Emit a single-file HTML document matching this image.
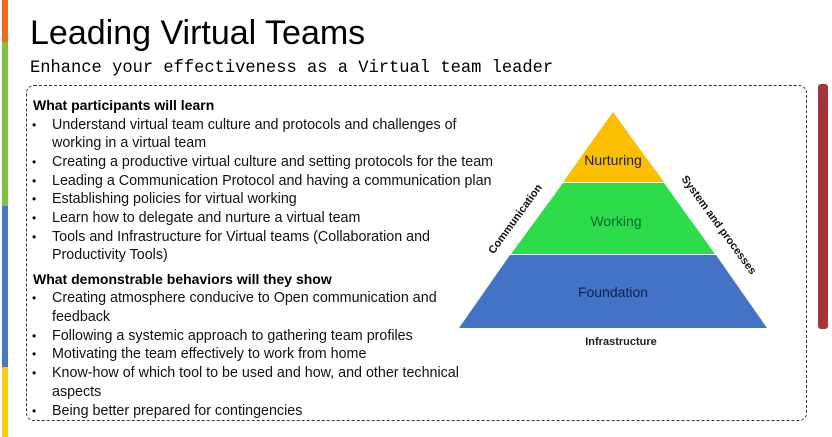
<!DOCTYPE html>
<html><head><style>
body{margin:0;width:832px;height:437px;background:#fff;position:relative;overflow:hidden;font-family:"Liberation Sans",sans-serif}
.a{position:absolute}
.t{position:absolute;left:52px;font-size:14.3px;color:#111;white-space:nowrap;line-height:18px}
.b{position:absolute;left:32px;font-size:12px}
.h{position:absolute;left:33px;font-size:14px;font-weight:bold;white-space:nowrap}
</style></head><body>
<div class="a" style="left:2px;top:0;width:6px;height:42px;background:#f26a1b"></div>
<div class="a" style="left:2px;top:42px;width:6px;height:164px;background:#7fc241"></div>
<div class="a" style="left:2px;top:206px;width:6px;height:161px;background:#4a78c8"></div>
<div class="a" style="left:2px;top:367px;width:6px;height:70px;background:#fcc812"></div>
<div class="a" style="left:818px;top:84px;width:10px;height:245px;background:#a8323e;border-radius:3px"></div>
<div class="a" style="left:30px;top:14px;font-size:34px;color:#000">Leading Virtual Teams</div>
<div class="a" style="left:30px;top:59px;font-family:'Liberation Mono',monospace;font-size:17.1px;color:#000">Enhance your effectiveness as a Virtual team leader</div>
<div class="a" style="left:26px;top:85px;width:779px;height:334px;border:1px dashed #333;border-radius:8px"></div>
<div class="h" style="top:97px">What participants will learn</div>
<div class="b" style="top:118px">•</div><div class="t" style="top:116px">Understand virtual team culture and protocols and challenges of</div>
<div class="t" style="top:134px">working in a virtual team</div>
<div class="b" style="top:155px">•</div><div class="t" style="top:153px">Creating a productive virtual culture and setting protocols for the team</div>
<div class="b" style="top:174px">•</div><div class="t" style="top:172px">Leading a Communication Protocol and having a communication plan</div>
<div class="b" style="top:192px">•</div><div class="t" style="top:190px">Establishing policies for virtual working</div>
<div class="b" style="top:211px">•</div><div class="t" style="top:209px">Learn how to delegate and nurture a virtual team</div>
<div class="b" style="top:230px">•</div><div class="t" style="top:228px">Tools and Infrastructure for Virtual teams (Collaboration and</div>
<div class="t" style="top:246px">Productivity Tools)</div>
<div class="h" style="top:271px">What demonstrable behaviors will they show</div>
<div class="b" style="top:291px">•</div><div class="t" style="top:289px">Creating atmosphere conducive to Open communication and</div>
<div class="t" style="top:308px">feedback</div>
<div class="b" style="top:329px">•</div><div class="t" style="top:327px">Following a systemic approach to gathering team profiles</div>
<div class="b" style="top:347px">•</div><div class="t" style="top:345px">Motivating the team effectively to work from home</div>
<div class="b" style="top:366px">•</div><div class="t" style="top:364px">Know-how of which tool to be used and how, and other technical</div>
<div class="t" style="top:383px">aspects</div>
<div class="b" style="top:404px">•</div><div class="t" style="top:402px">Being better prepared for contingencies</div>
<svg class="a" style="left:0;top:0" width="832" height="437">
<polygon points="613,112 664,182 563,182" fill="#fcbf00"/>
<polygon points="563,183 664,183 715,254 511,254" fill="#2ddc4b"/>
<polygon points="510,255 716,255 767,328 459,328" fill="#4472c4"/>
<g font-family="Liberation Sans,sans-serif" font-size="14" text-anchor="middle">
<text x="613" y="165" fill="#222">Nurturing</text>
<text x="616" y="226" fill="#063">Working</text>
<text x="613" y="297" fill="#0d2350">Foundation</text>
<text x="621" y="345" font-size="11" font-weight="bold" fill="#222">Infrastructure</text>
<text x="0" y="0" font-size="11" font-weight="bold" fill="#111" transform="translate(518,221) rotate(-54)">Communication</text>
<text x="0" y="0" font-size="11" font-weight="bold" fill="#111" transform="translate(716,227) rotate(54)">System and processes</text>
</g>
</svg>
</body></html>
